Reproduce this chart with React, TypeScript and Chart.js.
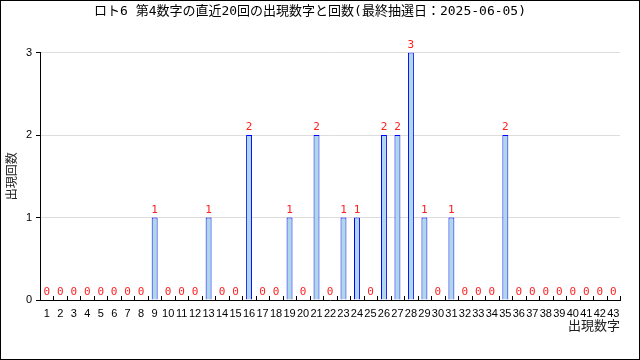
import React, { useEffect, useRef } from "react";
import { Chart, registerables } from "chart.js";

Chart.register(...registerables);

const categories: string[] = [
  "1","2","3","4","5","6","7","8","9","10","11","12","13","14","15","16","17","18","19","20","21","22",
  "23","24","25","26","27","28","29","30","31","32","33","34","35","36","37","38","39","40","41","42","43",
];
const counts: number[] = [
  0,0,0,0,0,0,0,0,1,0,0,0,1,0,0,2,0,0,1,0,2,0,
  1,1,0,2,2,3,1,0,1,0,0,0,2,0,0,0,0,0,0,0,0,
];
const yTicks: number[] = [0, 1, 2, 3];
const titleText = "ロト6 第4数字の直近20回の出現数字と回数(最終抽選日：2025-06-05)";
const xTitle = "出現数字";
const yTitle = "出現回数";

const frame = {
  id: "frame",
  afterDraw(chart: any) {
    const ctx = chart.ctx;
    ctx.save();
    ctx.strokeStyle = "#000";
    ctx.lineWidth = 1;
    ctx.strokeRect(0.5, 0.5, chart.width - 1, chart.height - 1);
    ctx.restore();
  },
};

const innerTicks = {
  id: "innerTicks",
  afterDatasetsDraw(chart: any) {
    const ctx = chart.ctx;
    const x = chart.scales.x;
    const bottom = chart.chartArea.bottom;
    const step = x.getPixelForValue(1) - x.getPixelForValue(0);
    ctx.save();
    ctx.strokeStyle = "#000";
    ctx.lineWidth = 1;
    ctx.beginPath();
    for (let i = 0; i <= categories.length; i++) {
      const px = i < categories.length ? x.getPixelForValue(i) - step / 2 : x.getPixelForValue(i - 1) + step / 2;
      const rx = Math.round(px) + 0.5;
      ctx.moveTo(rx, bottom);
      ctx.lineTo(rx, bottom - 4);
    }
    ctx.stroke();
    ctx.restore();
  },
};

const valueLabels = {
  id: "valueLabels",
  afterDatasetsDraw(chart: any) {
    const ctx = chart.ctx;
    const meta = chart.getDatasetMeta(0);
    ctx.save();
    ctx.fillStyle = "#ff2020";
    ctx.font = '11px "DejaVu Sans Mono"';
    ctx.textAlign = "center";
    ctx.textBaseline = "alphabetic";
    meta.data.forEach((bar: any, i: number) => {
      ctx.fillText(String(counts[i]), bar.x, bar.y - 5);
    });
    ctx.restore();
  },
};

export default function App() {
  const ref = useRef<HTMLCanvasElement | null>(null);
  useEffect(() => {
    document.body.style.margin = "0";
    if (!ref.current) return;
    const chart = new Chart(ref.current, {
      type: "bar",
      data: {
        labels: categories,
        datasets: [
          {
            data: counts,
            backgroundColor: "#add8e6",
            borderColor: "#0000ff",
            borderWidth: 1,
            barPercentage: 0.44,
            categoryPercentage: 1,
          },
        ],
      },
      options: {
        animation: false,
        responsive: false,
        devicePixelRatio: 1,
        layout: { padding: { left: 0, right: 20, top: 0, bottom: 27 } },
        plugins: {
          legend: { display: false },
          tooltip: { enabled: false },
          title: {
            display: true,
            text: titleText,
            color: "#000",
            font: { family: '"DejaVu Sans Mono", "Noto Sans CJK JP"', size: 13, weight: "normal" },
            padding: { top: 4, bottom: 33 },
          },
        },
        scales: {
          x: {
            grid: { display: false, drawTicks: false },
            border: { display: true, color: "#000", width: 1 },
            ticks: {
              color: "#000",
              autoSkip: false,
              maxRotation: 0,
              minRotation: 0,
              padding: 7,
              font: { family: '"Liberation Sans"', size: 11 },
            },
            title: {
              display: true,
              text: xTitle,
              align: "end",
              color: "#222",
              font: { family: '"Noto Sans CJK JP"', size: 13 },
              padding: 0,
            },
            afterFit(scale: any) {
              scale.height = 33;
            },
          },
          y: {
            min: 0,
            max: 3,
            afterBuildTicks(scale: any) {
              scale.ticks = yTicks.map((v) => ({ value: v }));
            },
            grid: { color: "#dddddd", tickColor: "#000", tickLength: 4, drawTicks: true },
            border: { display: true, color: "#000", width: 1 },
            ticks: {
              color: "#000",
              padding: 4,
              font: { family: '"Liberation Sans"', size: 11 },
            },
            title: {
              display: true,
              text: yTitle,
              color: "#222",
              font: { family: '"Noto Sans CJK JP"', size: 12 },
              padding: { top: 4, bottom: 0 },
            },
            afterFit(scale: any) {
              scale.width = 40;
            },
          },
        },
      } as any,
      plugins: [innerTicks, valueLabels, frame],
    });
    return () => chart.destroy();
  }, []);
  return (
    <div style={{ width: 640, height: 360 }}>
      <canvas ref={ref} width={640} height={360} style={{ display: "block" }} />
    </div>
  );
}
